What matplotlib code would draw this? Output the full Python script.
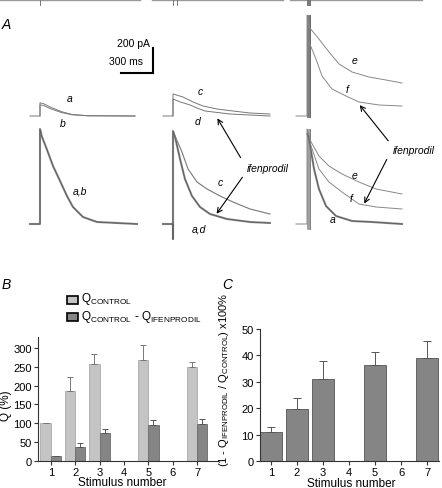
import numpy as np
import matplotlib
matplotlib.use("Agg")
import matplotlib.pyplot as plt
from matplotlib.patches import Rectangle, FancyArrowPatch

plt.rcParams["font.family"] = ["Liberation Sans", "DejaVu Sans"]
plt.rcParams["mathtext.default"] = "regular"

W, H = 442, 489
MS_PER_PX = 9.375   # 300 ms scale bar ~ 32 px
PA_PER_PX = 8.0     # 200 pA scale bar ~ 25 px

# ---------------- panel A traces (time in ms from first stimulus, current in pA) ----------------
# stimulus trains (ms)
stim_col1 = [0]
stim_col2 = [0, 37]
stim_col3 = [0, 8, 16, 24, 32]

# column 1, raw: a (control) and b (ifenprodil)
t_a1 = [-94, 0, 0, 30, 100, 200, 300, 450, 890]
i_a1 = [0, 0, 105, 100, 70, 35, 12, 2, 0]
t_b1 = [0, 0, 30, 100, 200, 300, 450, 890]
i_b1 = [0, 88, 85, 58, 28, 10, 2, 0]
# column 1, scaled: a,b superimposed
t_ab1 = [-94, 0, 0, 7, 16, 63, 122, 188, 253, 309, 403, 534, 909]
i_ab1 = [0, 0, 760, 736, 704, 600, 464, 344, 224, 136, 56, 16, 0]

# column 2, raw: c (control), d (ifenprodil)
t_c2 = [-94, 0, 0, 94, 188, 281, 412, 562, 722, 909]
i_c2 = [0, 0, 176, 152, 112, 80, 56, 40, 24, 16]
t_d2 = [0, 0, 60, 159, 230, 300, 534, 909]
i_d2 = [0, 136, 115, 88, 62, 40, 16, 0]
# column 2, scaled: c and a,d
t_ad2 = [-94, 0, 0, 0, 19, 66, 112, 178, 253, 347, 506, 722, 909]
i_ad2 = [0, 0, -120, 744, 696, 520, 360, 224, 136, 80, 40, 16, 8]
t_cs2 = [19, 84, 141, 225, 319, 441, 562, 722, 909]
i_cs2 = [704, 576, 440, 336, 280, 224, 176, 120, 80]

# column 3, raw: e (control), f (ifenprodil)
t_e3 = [-103, 0, 0, 19, 112, 206, 300, 422, 581, 741, 891]
i_e3 = [0, 0, 808, 712, 616, 512, 416, 352, 312, 288, 264]
t_f3 = [19, 84, 141, 234, 366, 487, 675, 891]
i_f3 = [592, 456, 320, 216, 160, 112, 88, 80]
# column 3, scaled: e, f, a
t_es3 = [-103, 0, 0, 38, 112, 206, 328, 487, 647, 891]
i_es3 = [0, 0, 760, 656, 544, 464, 400, 336, 280, 240]
t_fs3 = [10, 38, 112, 206, 328, 487, 647, 891]
i_fs3 = [690, 624, 440, 336, 256, 160, 136, 120]
t_as3 = [5, 19, 66, 112, 178, 272, 422, 609, 891]
i_as3 = [720, 680, 440, 280, 144, 64, 24, 16, 0]

# ---------------- panel B / C bar data ----------------
stimulus = [1, 2, 3, 5, 7]
q_control = [100, 186, 257, 269, 250]
q_control_err = [0, 37, 28, 39, 13]
q_diff = [12, 36, 75, 94, 98]
q_diff_err = [0, 10, 10, 14, 13]
block_pct = [10.9, 19.6, 31.0, 36.2, 38.9]
block_err = [2.0, 4.1, 6.7, 4.9, 6.5]

LIGHT = "#c4c4c4"
DARK = "#858585"


def fx(x):
    return x / W


def fy(y):
    return 1 - y / H


fig = plt.figure(figsize=(W / 100, H / 100), dpi=100)

# panel A canvas: ms horizontally, pA vertically
axA = fig.add_axes([0, fy(265), 1, 265 / H])
axA.set_xlim(0, W * MS_PER_PX)
axA.set_ylim(0, 265 * PA_PER_PX)
axA.axis("off")

onsets = [40 * MS_PER_PX, 173 * MS_PER_PX, 307 * MS_PER_PX]
base_top = (265 - 117) * PA_PER_PX
base_bot = (265 - 225) * PA_PER_PX


def trace(col, base, t, i, color, lw):
    axA.plot(np.array(t) + onsets[col], np.array(i) + base, color=color, lw=lw,
             solid_joinstyle="round")


# stimulus markers along the top
stim_y = (265 - 1) * PA_PER_PX
for col, stims, (x0, x1) in zip(range(3), [stim_col1, stim_col2, stim_col3],
                                [(0, 140), (152, 283), (290, 422)]):
    axA.plot([x0 * MS_PER_PX, x1 * MS_PER_PX], [stim_y, stim_y], color="#999999", lw=1.0)
    for s in stims:
        axA.plot([onsets[col] + s] * 2, [stim_y, stim_y - 5 * PA_PER_PX], color="#777777", lw=0.7)

# raw traces
trace(0, base_top, t_a1, i_a1, "#777777", 0.7)
trace(0, base_top, t_b1, i_b1, "#777777", 0.7)
trace(1, base_top, t_c2, i_c2, "#777777", 0.7)
trace(1, base_top, t_d2, i_d2, "#777777", 0.7)
for s in stim_col3:
    trace(2, base_top, [s, s], [-10, 808], "#666666", 0.6)
trace(2, base_top, t_e3, i_e3, "#888888", 0.7)
trace(2, base_top, t_f3, i_f3, "#888888", 0.7)

# scaled traces
trace(0, base_bot, t_ab1, i_ab1, "#8a8a8a", 1.5)
trace(0, base_bot, t_ab1, i_ab1, "#555555", 0.5)
trace(1, base_bot, t_cs2, i_cs2, "#777777", 0.8)
trace(1, base_bot, t_ad2, i_ad2, "#8a8a8a", 1.5)
trace(1, base_bot, t_ad2, i_ad2, "#555555", 0.5)
for s in stim_col3:
    trace(2, base_bot, [s, s], [-40, 760], "#777777", 0.5)
trace(2, base_bot, t_es3, i_es3, "#888888", 0.7)
trace(2, base_bot, t_fs3, i_fs3, "#888888", 0.7)
trace(2, base_bot, t_as3, i_as3, "#8a8a8a", 1.5)
trace(2, base_bot, t_as3, i_as3, "#555555", 0.5)

# scale bar
sb_x = 153 * MS_PER_PX
sb_y = (265 - 74) * PA_PER_PX
axA.plot([sb_x - 300, sb_x], [sb_y, sb_y], color="black", lw=1.5)
axA.plot([sb_x, sb_x], [sb_y, sb_y + 200], color="black", lw=1.5)
fig.text(fx(150), fy(44), "200 pA", ha="right", va="center", fontsize=7.5)
fig.text(fx(143), fy(62), "300 ms", ha="right", va="center", fontsize=7.5)

fig.text(fx(2), fy(25), "A", style="italic", fontsize=10, va="center")

trace_labels = [("a", 70, 99), ("b", 63, 124), ("c", 200, 92), ("d", 198, 122),
                ("e", 355, 61), ("f", 347, 90), ("a,b", 80, 192), ("c", 220, 183),
                ("a,d", 199, 229), ("e", 355, 176), ("f", 351, 199), ("a", 333, 220)]
for s, x, y in trace_labels:
    fig.text(fx(x), fy(y), s, style="italic", fontsize=7.5, ha="center", va="center")

fig.text(fx(268), fy(169), "ifenprodil", style="italic", fontsize=7.5, ha="center", va="center")
fig.text(fx(414), fy(151), "ifenprodil", style="italic", fontsize=7.5, ha="center", va="center")
arrows = [((242, 161), (216, 117)), ((244, 176), (215, 217)),
          ((390, 144), (358, 104)), ((388, 158), (363, 207))]
for (tx, ty), (hx, hy) in arrows:
    fig.add_artist(FancyArrowPatch(
        (fx(tx), fy(ty)), (fx(hx), fy(hy)), transform=fig.transFigure,
        arrowstyle="->,head_length=3.5,head_width=1.8", color="black", lw=0.8))


def style_axes(ax):
    for sp in ["top", "right"]:
        ax.spines[sp].set_visible(False)
    for sp in ["left", "bottom"]:
        ax.spines[sp].set_linewidth(0.8)
        ax.spines[sp].set_color("#333333")
    ax.tick_params(direction="out", length=3, width=0.8, labelsize=8, pad=1.5, color="#333333")


# ---------------- panel B ----------------
axB = fig.add_axes([fx(38.3), fy(461.7), (218 - 38.3) / W, (461.7 - 338) / H])
bw = 0.42
xs = np.array(stimulus, dtype=float)
axB.bar(xs, q_control, width=-bw, align="edge", color=LIGHT, edgecolor="#aaaaaa", lw=0.6)
axB.bar(xs, q_diff, width=bw, align="edge", color=DARK, edgecolor="#6a6a6a", lw=0.6)
axB.errorbar(xs - bw / 2, q_control, yerr=[np.zeros(5), q_control_err], fmt="none",
             ecolor="#777777", elinewidth=0.7, capsize=2.5, capthick=0.7)
axB.errorbar(xs + bw / 2, q_diff, yerr=[np.zeros(5), q_diff_err], fmt="none",
             ecolor="#555555", elinewidth=0.7, capsize=2.5, capthick=0.7)
axB.set_xlim(0.49, 7.86)
axB.set_ylim(0, 330)
axB.set_xticks(range(1, 8))
axB.set_yticks(range(0, 301, 50))
style_axes(axB)
axB.set_ylabel("Q (%)", fontsize=8.5)
axB.yaxis.set_label_coords(-0.145, 0.45)
axB.set_xlabel("Stimulus number", fontsize=8.5)
axB.xaxis.set_label_coords(0.466, -0.125)

fig.text(fx(2), fy(285), "B", style="italic", fontsize=10, va="center")
fig.add_artist(Rectangle((fx(67), fy(305)), 11 / W, 8 / H, transform=fig.transFigure,
                         facecolor=LIGHT, edgecolor="black", lw=1.2))
fig.add_artist(Rectangle((fx(67), fy(322)), 11 / W, 8 / H, transform=fig.transFigure,
                         facecolor=DARK, edgecolor="black", lw=1.2))
fig.text(fx(81), fy(299), r"Q$_{CONTROL}$", fontsize=8.5, va="center")
fig.text(fx(81), fy(317), r"Q$_{CONTROL}$ - Q$_{IFENPRODIL}$", fontsize=8.5, va="center")

# ---------------- panel C ----------------
axC = fig.add_axes([fx(260), fy(462), (439 - 260) / W, (462 - 330) / H])
axC.bar(xs, block_pct, width=0.85, color=DARK, edgecolor="#555555", lw=0.6)
axC.errorbar(xs, block_pct, yerr=[np.zeros(5), block_err], fmt="none",
             ecolor="#555555", elinewidth=0.7, capsize=3, capthick=0.7)
axC.set_xlim(0.577, 7.46)
axC.set_ylim(0, 50)
axC.set_xticks(range(1, 8))
axC.set_yticks(range(0, 51, 10))
style_axes(axC)
axC.set_ylabel(r"(1 - Q$_{IFENPRODIL}$ / Q$_{CONTROL}$) x100%", fontsize=8)
axC.yaxis.set_label_coords(-0.16, 0.62)
axC.set_xlabel("Stimulus number", fontsize=8.5)
axC.xaxis.set_label_coords(0.51, -0.12)

fig.text(fx(222), fy(285), "C", style="italic", fontsize=10, va="center")

fig.savefig("out.png", dpi=100)
